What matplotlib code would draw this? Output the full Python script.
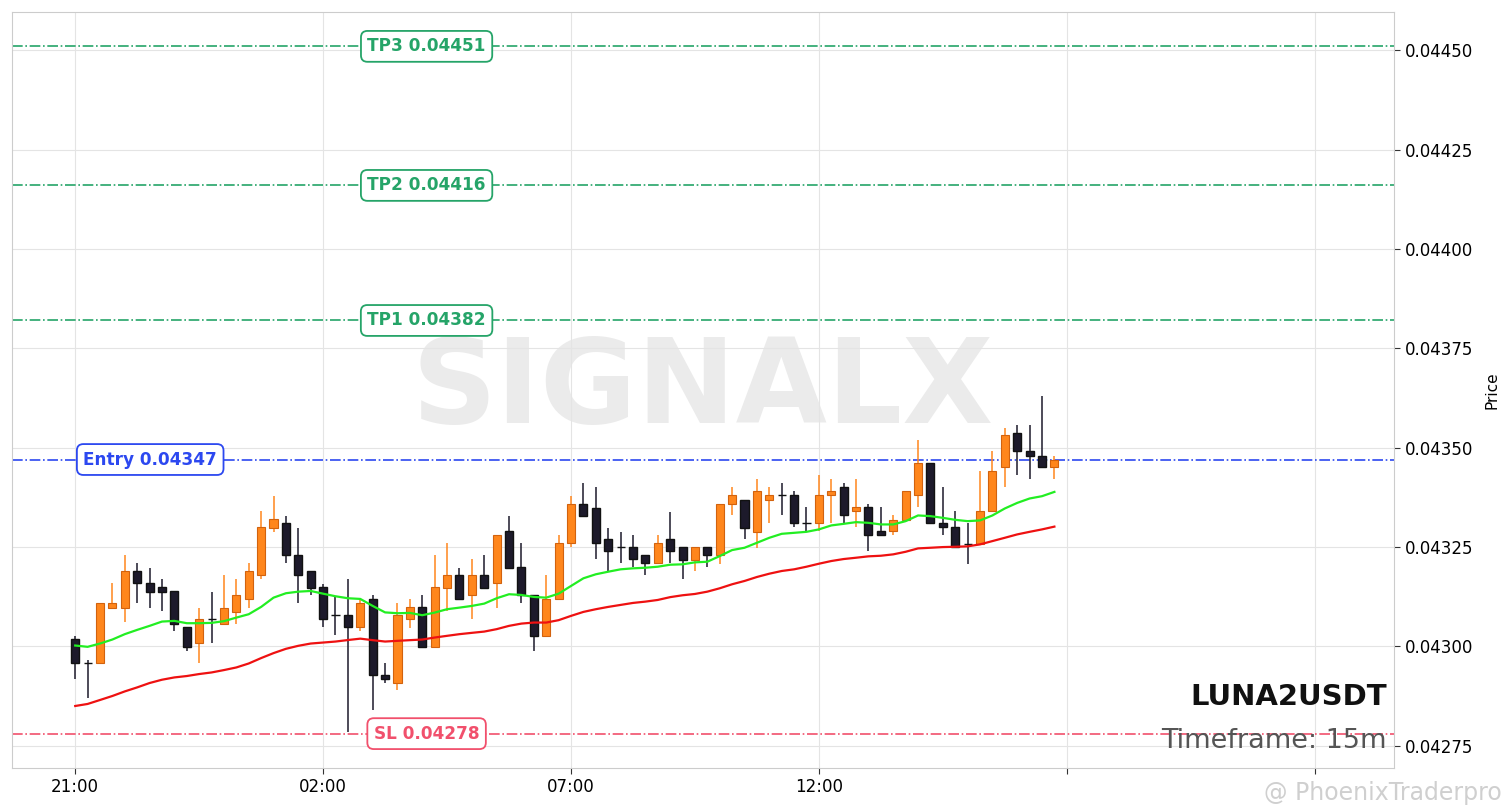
import matplotlib
matplotlib.use("Agg")
import matplotlib.pyplot as plt
import matplotlib.transforms as mtransforms
import numpy as np

# 15m candles, 21:00 -> 16:45
opens = [0.043018, 0.042957, 0.042957, 0.043097, 0.043097, 0.043189, 0.043158, 0.043149, 0.043139, 0.043049,
         0.043007, 0.043069, 0.043057, 0.043087, 0.043118, 0.043179, 0.043298, 0.043309, 0.043229, 0.043189,
         0.043149, 0.043079, 0.043079, 0.043049, 0.043118, 0.042927, 0.042907, 0.043068, 0.043099, 0.042997,
         0.043147, 0.043179, 0.043128, 0.043179, 0.043158, 0.043290, 0.043199, 0.043128, 0.043027, 0.043118,
         0.043259, 0.043359, 0.043349, 0.043269, 0.043249, 0.043249, 0.043229, 0.043209, 0.043269, 0.043250,
         0.043218, 0.043250, 0.043229, 0.043359, 0.043369, 0.043288, 0.043369, 0.043380, 0.043380, 0.043310,
         0.043310, 0.043380, 0.043400, 0.043340, 0.043350, 0.043290, 0.043290, 0.043319, 0.043380, 0.043461,
         0.043310, 0.043300, 0.043258, 0.043258, 0.043340, 0.043450, 0.043538, 0.043491, 0.043480, 0.043450]
closes = [0.042957, 0.042957, 0.043108, 0.043108, 0.043189, 0.043158, 0.043137, 0.043137, 0.043057, 0.042997,
          0.043068, 0.043069, 0.043097, 0.043128, 0.043189, 0.043300, 0.043320, 0.043229, 0.043179, 0.043147,
          0.043068, 0.043079, 0.043049, 0.043108, 0.042927, 0.042917, 0.043078, 0.043099, 0.042997, 0.043149,
          0.043179, 0.043118, 0.043179, 0.043147, 0.043280, 0.043198, 0.043128, 0.043027, 0.043118, 0.043259,
          0.043359, 0.043329, 0.043259, 0.043240, 0.043249, 0.043219, 0.043209, 0.043259, 0.043240, 0.043218,
          0.043250, 0.043229, 0.043359, 0.043380, 0.043298, 0.043390, 0.043380, 0.043380, 0.043310, 0.043310,
          0.043380, 0.043390, 0.043330, 0.043350, 0.043279, 0.043279, 0.043319, 0.043390, 0.043461, 0.043310,
          0.043300, 0.043250, 0.043258, 0.043340, 0.043440, 0.043531, 0.043491, 0.043480, 0.043450, 0.043470]
highs = [0.043026, 0.042966, 0.043109, 0.043158, 0.043229, 0.043209, 0.043198, 0.043168, 0.043139, 0.043049,
         0.043097, 0.043137, 0.043179, 0.043169, 0.043210, 0.043340, 0.043379, 0.043329, 0.043298, 0.043189,
         0.043157, 0.043125, 0.043168, 0.043118, 0.043128, 0.042957, 0.043108, 0.043118, 0.043128, 0.043229,
         0.043259, 0.043198, 0.043219, 0.043229, 0.043280, 0.043329, 0.043259, 0.043128, 0.043179, 0.043280,
         0.043379, 0.043410, 0.043400, 0.043298, 0.043288, 0.043280, 0.043229, 0.043280, 0.043338, 0.043250,
         0.043250, 0.043250, 0.043359, 0.043400, 0.043369, 0.043420, 0.043400, 0.043410, 0.043390, 0.043350,
         0.043430, 0.043420, 0.043410, 0.043420, 0.043359, 0.043350, 0.043330, 0.043390, 0.043520, 0.043461,
         0.043400, 0.043340, 0.043310, 0.043440, 0.043491, 0.043549, 0.043558, 0.043558, 0.043629, 0.043480]
lows = [0.042917, 0.042870, 0.042956, 0.043097, 0.043060, 0.043108, 0.043097, 0.043089, 0.043039, 0.042987,
        0.042957, 0.043007, 0.043057, 0.043057, 0.043097, 0.043169, 0.043288, 0.043209, 0.043108, 0.043128,
        0.043049, 0.043029, 0.042783, 0.043039, 0.042840, 0.042907, 0.042890, 0.043047, 0.042997, 0.042997,
        0.043089, 0.043118, 0.043068, 0.043147, 0.043097, 0.043198, 0.043108, 0.042989, 0.043027, 0.043118,
        0.043250, 0.043329, 0.043219, 0.043189, 0.043210, 0.043199, 0.043179, 0.043209, 0.043209, 0.043169,
        0.043189, 0.043199, 0.043208, 0.043330, 0.043270, 0.043248, 0.043310, 0.043330, 0.043300, 0.043288,
        0.043290, 0.043310, 0.043310, 0.043300, 0.043240, 0.043279, 0.043279, 0.043319, 0.043350, 0.043310,
        0.043279, 0.043250, 0.043208, 0.043258, 0.043340, 0.043400, 0.043430, 0.043420, 0.043450, 0.043420]

# moving averages
ma_fast = [0.0430018, 0.0429985, 0.0430068, 0.0430169, 0.0430304, 0.0430412, 0.0430513, 0.0430621, 0.0430638, 0.0430580,
           0.0430580, 0.0430588, 0.0430631, 0.0430721, 0.0430806, 0.0430990, 0.0431223, 0.0431334, 0.0431374, 0.0431391,
           0.0431323, 0.0431258, 0.0431208, 0.0431191, 0.0431015, 0.0430852, 0.0430831, 0.0430839, 0.0430781, 0.0430847,
           0.0430932, 0.0430972, 0.0431015, 0.0431073, 0.0431208, 0.0431309, 0.0431291, 0.0431241, 0.0431223, 0.0431323,
           0.0431517, 0.0431710, 0.0431811, 0.0431876, 0.0431936, 0.0431961, 0.0431976, 0.0432002, 0.0432052, 0.0432062,
           0.0432112, 0.0432127, 0.0432270, 0.0432421, 0.0432479, 0.0432604, 0.0432730, 0.0432830, 0.0432855, 0.0432880,
           0.0432941, 0.0433041, 0.0433081, 0.0433124, 0.0433106, 0.0433066, 0.0433066, 0.0433149, 0.0433292, 0.0433275,
           0.0433232, 0.0433182, 0.0433149, 0.0433167, 0.0433292, 0.0433468, 0.0433608, 0.0433719, 0.0433777, 0.0433885]
ma_slow = [0.0428496, 0.0428547, 0.0428647, 0.0428748, 0.0428863, 0.0428964, 0.0429074, 0.0429157, 0.0429215, 0.0429250,
           0.0429300, 0.0429340, 0.0429400, 0.0429466, 0.0429566, 0.0429702, 0.0429827, 0.0429935, 0.0430011, 0.0430068,
           0.0430093, 0.0430118, 0.0430156, 0.0430191, 0.0430153, 0.0430118, 0.0430136, 0.0430153, 0.0430169, 0.0430219,
           0.0430262, 0.0430304, 0.0430337, 0.0430369, 0.0430430, 0.0430513, 0.0430570, 0.0430596, 0.0430596, 0.0430656,
           0.0430764, 0.0430864, 0.0430932, 0.0430990, 0.0431040, 0.0431090, 0.0431123, 0.0431165, 0.0431236, 0.0431283,
           0.0431316, 0.0431374, 0.0431459, 0.0431560, 0.0431643, 0.0431743, 0.0431826, 0.0431894, 0.0431936, 0.0432002,
           0.0432077, 0.0432145, 0.0432195, 0.0432228, 0.0432263, 0.0432278, 0.0432313, 0.0432378, 0.0432463, 0.0432479,
           0.0432496, 0.0432504, 0.0432514, 0.0432564, 0.0432647, 0.0432730, 0.0432815, 0.0432880, 0.0432941, 0.0433011]

tick_pos = [0, 20, 40, 60, 80, 100]
tick_labels = ['21:00', '02:00', '07:00', '12:00', '', '']

entry = 0.04347
sl = 0.04278
tps = [0.04382, 0.04416, 0.04451]

up_col = '#ff861c'
up_edge = '#d2620e'
dn_col = '#1d1a2b'
dn_edge = '#111111'
tp_col = '#25a468'
sl_col = '#f1506c'
entry_col = '#2c48f0'

fig = plt.figure(figsize=(15.12, 8.08), dpi=100)
ax = fig.add_axes([12/1512, 40/808, 1382/1512, 756/808])

x = np.arange(len(opens))
o = np.array(opens)
c = np.array(closes)
h = np.array(highs)
l = np.array(lows)
up = c > o   # doji drawn dark, like the source

# wicks
ax.vlines(x[up], l[up], h[up], color=up_col, linewidth=1.1, zorder=3)
ax.vlines(x[~up], l[~up], h[~up], color=dn_col, linewidth=1.1, zorder=3)
# bodies
body = np.abs(c - o)
bottom = np.minimum(o, c)
ax.bar(x[up], body[up], bottom=bottom[up], width=0.65, color=up_col,
       edgecolor=up_edge, linewidth=0.8, zorder=4)
ax.bar(x[~up], body[~up], bottom=bottom[~up], width=0.65, color=dn_col,
       edgecolor=dn_edge, linewidth=1.0, zorder=4)

ax.plot(x, ma_fast, color='#22ee22', linewidth=1.6, zorder=5)
ax.plot(x, ma_slow, color='#ee1111', linewidth=1.6, zorder=5)

# level lines + tags
trans = mtransforms.blended_transform_factory(ax.transAxes, ax.transData)
box_kw = dict(boxstyle='round,pad=0.38', fc='white', lw=1.3)
for i, tp in enumerate(tps):
    ax.axhline(tp, color=tp_col, linestyle='-.', linewidth=1.2, zorder=2)
    ax.text(0.30, tp, 'TP%d %.5f' % (i + 1, tp), transform=trans, ha='center', va='center',
            fontsize=12.2, fontweight='bold', color=tp_col, zorder=6,
            bbox=dict(box_kw, ec=tp_col))
ax.axhline(entry, color=entry_col, linestyle='-.', linewidth=1.2, zorder=2)
ax.text(0.10, entry, 'Entry %.5f' % entry, transform=trans, ha='center', va='center',
        fontsize=12.2, fontweight='bold', color=entry_col, zorder=6,
        bbox=dict(box_kw, ec=entry_col))
ax.axhline(sl, color=sl_col, linestyle='-.', linewidth=1.2, zorder=2)
ax.text(0.30, sl, 'SL %.5f' % sl, transform=trans, ha='center', va='center',
        fontsize=12.2, fontweight='bold', color=sl_col, zorder=6,
        bbox=dict(box_kw, ec=sl_col))

# watermark + titles
ax.text(0.5, 0.499, 'SIGNALX', transform=ax.transAxes, ha='center', va='center',
        fontsize=85, fontweight='bold', color='#e6e6e6', alpha=0.8, zorder=0)
ax.text(0.995, 0.083, 'LUNA2USDT', transform=ax.transAxes, ha='right', va='baseline',
        fontsize=21, fontweight='bold', color='#111111', zorder=7)
ax.text(0.995, 0.026, 'Timeframe: 15m', transform=ax.transAxes, ha='right', va='baseline',
        fontsize=19.5, color='#555555', zorder=7)

lo = min(min(lows), sl)
hi = max(max(highs), max(tps))
pad = (hi - lo) * 0.05
ax.set_ylim(lo - pad, hi + pad)
ax.set_xlim(-5.1, 106.4)

ax.set_xticks(tick_pos)
ax.set_xticklabels(tick_labels)
ax.set_yticks([0.04275, 0.04300, 0.04325, 0.04350, 0.04375, 0.04400, 0.04425, 0.04450])
ax.yaxis.set_major_formatter(matplotlib.ticker.FormatStrFormatter('%.5f'))
ax.yaxis.tick_right()
ax.yaxis.set_label_position('right')
ax.set_ylabel('Price', fontsize=11, labelpad=8)
ax.tick_params(axis='both', labelsize=12, length=4, color='#333333')
ax.grid(True, color='#e4e4e4', linewidth=0.8, zorder=0)
ax.set_axisbelow(True)
for s in ax.spines.values():
    s.set_color('#cccccc')

fig.text(0.993, 0.018, '@ PhoenixTraderpro', ha='right', va='center', fontsize=17,
         color='#bbbbbb', alpha=0.7)

fig.savefig('out.png', dpi=100)
